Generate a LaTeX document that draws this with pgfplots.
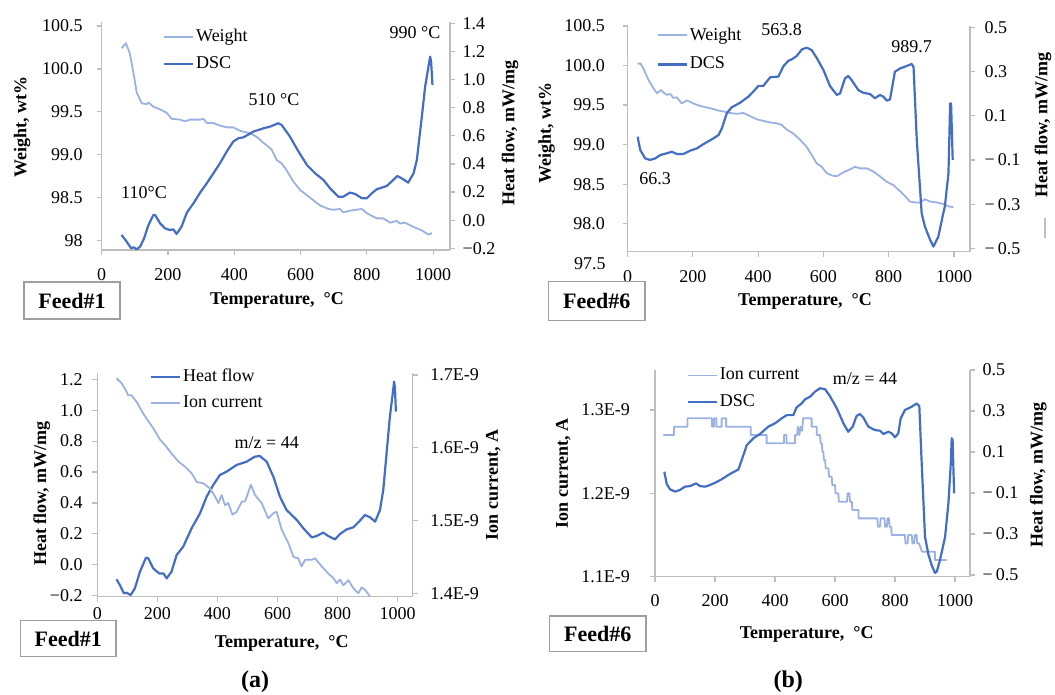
\documentclass[border=0pt]{standalone}
\usepackage{pgfplots}
\pgfplotsset{compat=1.18}
\usepackage{fontspec}
\setmainfont{Liberation Serif}
\definecolor{lightb}{RGB}{155,177,228}
\definecolor{darkb}{RGB}{68,110,196}
\definecolor{axgray}{RGB}{190,190,190}
\newcommand{\tf}{\fontsize{9}{10}\selectfont}
\newcommand{\lb}[1]{\makebox[14pt][l]{#1}}
\newcommand{\lc}[1]{\makebox[12.5pt][l]{#1}}
\newcommand{\rb}[1]{\makebox[21pt][r]{#1}}
\pgfplotsset{
  base/.style={scale only axis, anchor=south west, axis line style={axgray, line width=0.6pt},
    tick style={axgray, line width=0.6pt}, major tick length=2.5pt, tick align=outside,
    /pgf/number format/assume math mode=true,
    ticklabel style={font=\tf, text=black}, clip=false, xmin=0,
    xtick={0,200,400,600,800,1000}, xticklabels={0,200,400,600,800,1000},
    every axis plot/.append style={line join=round}},
  L/.style={axis x line*=bottom, axis y line*=left, yticklabel style={anchor=east}},
  R/.style={axis y line*=right, axis x line=none, yticklabel style={anchor=west}},
  lw/.style={lightb, line width=0.9pt},
  dk/.style={darkb, line width=1.1pt},
  leg/.style={legend style={draw=none, fill=none, inner sep=0pt, outer sep=0pt, font=\tf,
    row sep=4pt, anchor=north west, legend cell align=left, nodes={inner sep=1pt}},
    legend image code/.code={\draw[##1] (0pt,0pt) -- (14.5pt,0pt);}},
}
\begin{document}
\begin{tikzpicture}
\path[use as bounding box] (0,0) rectangle (527.5pt,347.5pt);
% ---------------- Panel 1 (Feed#1, top) ----------------
\begin{axis}[base, L, at={(50.85pt,222.5pt)}, width=174.15pt, height=114pt, xmax=1051,
  ymin=97.892, ymax=100.547,
  ytick={98,98.5,99,99.5,100,100.5}, yticklabels={\rb{98},\rb{98.5},\rb{99.0},\rb{99.5},\rb{100.0},\rb{100.5}},
  xticklabel shift=3pt, yticklabel shift=3.5pt]
\addplot[lw] coordinates {(60,100.24) (73,100.30) (85,100.18) (96,99.95) (106,99.72) (121,99.60) (136,99.59) (141,99.61) (156,99.56) (176,99.53) (196,99.49) (211,99.42) (236,99.41) (251,99.39) (267,99.41) (297,99.41) (307,99.42) (317,99.37) (337,99.37) (357,99.34) (377,99.32) (397,99.32) (417,99.28) (448,99.25) (468,99.21) (488,99.14) (498,99.11) (513,99.06) (528,98.94) (543,98.90) (558,98.82) (578,98.69) (599,98.59) (619,98.53) (639,98.47) (659,98.41) (684,98.37) (699,98.36) (719,98.37) (729,98.33) (749,98.35) (785,98.37) (800,98.32) (830,98.26) (850,98.26) (870,98.21) (890,98.23) (900,98.20) (915,98.21) (941,98.16) (966,98.12) (986,98.07) (996,98.09)};
\end{axis}
\begin{axis}[base, R, at={(50.85pt,222.5pt)}, width=174.15pt, height=114pt, xmax=1051,
  ymin=-0.212, ymax=1.409,
  ytick={-0.2,0,0.2,0.4,0.6,0.8,1.0,1.2,1.4}, yticklabels={\lc{−0.2},\lc{0.0},\lc{0.2},\lc{0.4},\lc{0.6},\lc{0.8},\lc{1.0},\lc{1.2},\lc{1.4}},
  yticklabel shift=0.3pt, leg, legend style={at={(0.176,0.977)}}]
\addlegendimage{lw}\addlegendentry{Weight}
\addplot[dk] coordinates {(60,-0.105) (75,-0.152) (89,-0.20) (96,-0.193) (106,-0.207) (116,-0.188) (128,-0.129) (141,-0.034) (156,0.037) (161,0.037) (176,-0.022) (191,-0.058) (206,-0.07) (216,-0.065) (226,-0.098) (241,-0.046) (257,0.054) (277,0.12) (297,0.196) (317,0.262) (337,0.333) (357,0.405) (377,0.487) (397,0.559) (412,0.582) (428,0.589) (458,0.63) (488,0.653) (508,0.665) (533,0.689) (543,0.677) (568,0.594) (594,0.487) (619,0.393) (644,0.333) (669,0.286) (689,0.227) (714,0.167) (729,0.167) (749,0.196) (765,0.186) (785,0.156) (800,0.156) (815,0.191) (830,0.220) (860,0.243) (880,0.286) (892,0.314) (905,0.298) (925,0.267) (941,0.333) (951,0.428) (966,0.736) (976,0.95) (986,1.092) (991,1.163) (994,1.127) (998,0.962)};
\addlegendentry{DSC}
\end{axis}
% ---------------- Panel 2 (Feed#6, top) ----------------
\begin{axis}[base, L, at={(313.75pt,221.65pt)}, width=171.25pt, height=112.85pt, xmax=1049,
  ymin=97.647, ymax=100.5,
  ytick={98,98.5,99,99.5,100,100.5}, yticklabels={\rb{98.0},\rb{98.5},\rb{99.0},\rb{99.5},\rb{100.0},\rb{100.5}},
  xticklabel shift=3.5pt, yticklabel shift=5.3pt]
\addplot[lw] coordinates {(31,100.02) (39,100.03) (49,99.96) (64,99.82) (80,99.71) (90,99.65) (102,99.69) (110,99.66) (120,99.63) (131,99.64) (141,99.59) (151,99.60) (166,99.52) (182,99.56) (202,99.52) (222,99.49) (243,99.47) (263,99.45) (279,99.43) (294,99.42) (314,99.40) (335,99.39) (355,99.40) (376,99.36) (396,99.32) (416,99.30) (437,99.28) (457,99.27) (472,99.25) (488,99.19) (508,99.14) (529,99.06) (549,98.97) (564,98.87) (580,98.76) (595,98.72) (610,98.64) (626,98.61) (641,98.60) (661,98.65) (682,98.69) (697,98.72) (712,98.70) (733,98.70) (753,98.66) (773,98.60) (794,98.53) (814,98.49) (835,98.41) (850,98.35) (865,98.28) (881,98.27) (896,98.27) (911,98.31) (927,98.28) (947,98.27) (967,98.25) (983,98.22) (998,98.21)};
\end{axis}
\begin{axis}[base, R, at={(313.75pt,221.65pt)}, width=171.25pt, height=112.85pt, xmax=1049,
  ymin=-0.515, ymax=0.506,
  ytick={-0.5,-0.3,-0.1,0.1,0.3,0.5}, yticklabels={\lb{−\,0.5},\lb{−\,0.3},\lb{−\,0.1},\lb{0.1},\lb{0.3},\lb{0.5}},
  yticklabel shift=1.3pt, leg, legend style={at={(0.085,1.002)}, row sep=5pt}]
\addlegendimage{lw}\addlegendentry{Weight}
\addplot[dk] coordinates {(31,0.005) (39,-0.055) (54,-0.093) (69,-0.100) (85,-0.093) (100,-0.078) (120,-0.070) (136,-0.063) (151,-0.073) (171,-0.073) (192,-0.058) (212,-0.048) (233,-0.028) (258,-0.007) (279,0.013) (289,0.043) (304,0.111) (319,0.138) (345,0.159) (370,0.186) (385,0.209) (401,0.235) (416,0.235) (437,0.274) (462,0.277) (478,0.325) (493,0.349) (503,0.355) (518,0.370) (534,0.400) (549,0.408) (564,0.397) (580,0.360) (600,0.307) (620,0.235) (641,0.194) (651,0.201) (666,0.269) (676,0.280) (686,0.262) (707,0.216) (722,0.204) (743,0.198) (758,0.179) (773,0.194) (784,0.186) (794,0.168) (804,0.174) (819,0.299) (835,0.314) (855,0.325) (870,0.334) (876,0.322) (886,-0.010) (901,-0.342) (911,-0.402) (927,-0.462) (937,-0.492) (952,-0.447) (967,-0.342) (972,-0.31) (983,-0.16) (986,0.02) (988,0.156) (991,0.156) (996,-0.1)};
\addlegendentry{DCS}
\end{axis}
% ---------------- Panel 3 (Feed#1, bottom) ----------------
\begin{axis}[base, L, at={(48.65pt,49.15pt)}, width=157.7pt, height=111.6pt, xmax=1050,
  ymin=-0.2065, ymax=1.2375,
  ytick={-0.2,0,0.2,0.4,0.6,0.8,1.0,1.2}, yticklabels={−0.2,0.0,0.2,0.4,0.6,0.8,1.0,1.2},
  xticklabel shift=-0.5pt, yticklabel shift=1.3pt]
\addplot[dk] coordinates {(64,-0.094) (75,-0.131) (89,-0.185) (98,-0.181) (111,-0.196) (125,-0.153) (142,-0.045) (162,0.046) (170,0.041) (186,-0.023) (206,-0.056) (220,-0.056) (231,-0.088) (247,-0.045) (264,0.063) (286,0.117) (314,0.236) (342,0.333) (364,0.441) (386,0.516) (408,0.581) (430,0.602) (464,0.646) (497,0.667) (524,0.699) (541,0.704) (564,0.667) (586,0.570) (608,0.441) (630,0.354) (664,0.290) (686,0.236) (714,0.177) (730,0.186) (752,0.208) (769,0.186) (791,0.164) (808,0.199) (830,0.229) (852,0.242) (874,0.285) (891,0.322) (908,0.307) (925,0.279) (941,0.354) (952,0.484) (963,0.721) (974,0.958) (983,1.099) (988,1.185) (991,1.142) (994,0.991)};
\end{axis}
\begin{axis}[base, R, at={(48.65pt,49.15pt)}, width=157.7pt, height=111.6pt, xmax=1050,
  ymin=1.3953, ymax=1.702,
  ytick={1.4,1.5,1.6,1.7}, yticklabels={1.4E-9,1.5E-9,1.6E-9,1.7E-9},
  yticklabel shift=2.8pt, leg, legend style={at={(0.167,1.029)}, row sep=3.5pt}]
\addlegendimage{dk}\addlegendentry{Heat flow}
\addplot[lw] coordinates {(64,1.6954) (81,1.6885) (95,1.679) (103,1.672) (114,1.672) (131,1.663) (153,1.647) (164,1.640) (186,1.627) (209,1.611) (225,1.604) (247,1.592) (270,1.581) (292,1.574) (314,1.565) (331,1.553) (353,1.551) (375,1.544) (392,1.533) (403,1.524) (414,1.535) (425,1.521) (436,1.524) (450,1.508) (464,1.512) (481,1.526) (492,1.526) (511,1.549) (525,1.535) (547,1.524) (569,1.503) (586,1.510) (597,1.512) (614,1.487) (636,1.469) (653,1.450) (669,1.448) (680,1.437) (692,1.446) (714,1.446) (725,1.448) (747,1.437) (769,1.427) (786,1.421) (797,1.414) (808,1.419) (819,1.411) (836,1.418) (852,1.407) (869,1.400) (880,1.408) (891,1.405) (908,1.3955)};
\addlegendentry{Ion current}
\end{axis}
% ---------------- Panel 4 (Feed#6, bottom) ----------------
\begin{axis}[base, L, at={(327.5pt,59.15pt)}, width=157.5pt, height=103.35pt, xmax=1050,
  ymin=1.1, ymax=1.348,
  ytick={1.1,1.2,1.3}, yticklabels={1.1E-9,1.2E-9,1.3E-9},
  xticklabel shift=2.8pt, yticklabel shift=6.5pt]
\addplot[lw] coordinates {(28,1.27) (63,1.27) (63,1.28) (108,1.28) (108,1.29) (190,1.29) (190,1.28) (197,1.28) (197,1.29) (205,1.29) (205,1.28) (222,1.28) (222,1.29) (237,1.29) (237,1.28) (319,1.28) (319,1.27) (372,1.27) (372,1.26) (430,1.26) (430,1.27) (438,1.27) (438,1.26) (467,1.26) (467,1.27) (474,1.27) (476,1.28) (481,1.27) (485,1.28) (490,1.275) (494,1.29) (503,1.29) (522,1.29) (522,1.28) (539,1.28) (539,1.27) (550,1.27) (552,1.26) (556,1.26) (558,1.25) (561,1.25) (563,1.24) (567,1.24) (569,1.23) (578,1.23) (580,1.22) (589,1.22) (591,1.21) (600,1.21) (602,1.20) (611,1.20) (613,1.19) (640,1.19) (642,1.20) (648,1.20) (650,1.19) (656,1.19) (658,1.18) (678,1.18) (678,1.17) (741,1.17) (743,1.16) (750,1.16) (752,1.17) (765,1.17) (767,1.16) (773,1.16) (775,1.17) (780,1.17) (782,1.16) (787,1.16) (789,1.15) (833,1.15) (835,1.14) (842,1.14) (844,1.15) (856,1.15) (858,1.14) (864,1.14) (866,1.15) (872,1.15) (874,1.14) (880,1.14) (890,1.13) (933,1.13) (933,1.12) (972,1.12)};
\end{axis}
\begin{axis}[base, R, at={(327.5pt,59.15pt)}, width=157.5pt, height=103.35pt, xmax=1050,
  ymin=-0.508, ymax=0.5,
  ytick={-0.5,-0.3,-0.1,0.1,0.3,0.5}, yticklabels={\lb{−\,0.5},\lb{−\,0.3},\lb{−\,0.1},\lb{0.1},\lb{0.3},\lb{0.5}},
  yticklabel shift=0.3pt, leg, legend style={at={(0.1006,1.019)}}]
\addlegendimage{lw}\addlegendentry{Ion current}
\addplot[dk] coordinates {(31,0.004) (39,-0.056) (50,-0.082) (67,-0.093) (83,-0.085) (100,-0.069) (117,-0.066) (137,-0.053) (150,-0.066) (167,-0.069) (183,-0.061) (200,-0.050) (222,-0.033) (250,-0.007) (278,0.015) (289,0.061) (306,0.134) (328,0.167) (350,0.188) (378,0.224) (400,0.240) (422,0.264) (439,0.280) (461,0.280) (472,0.318) (489,0.337) (500,0.357) (517,0.370) (533,0.394) (550,0.411) (567,0.406) (583,0.373) (606,0.313) (628,0.240) (644,0.199) (659,0.224) (672,0.276) (683,0.285) (694,0.269) (711,0.224) (733,0.207) (750,0.204) (761,0.188) (778,0.199) (789,0.191) (800,0.172) (811,0.191) (819,0.264) (833,0.305) (856,0.321) (872,0.337) (881,0.324) (889,0.045) (900,-0.313) (911,-0.398) (922,-0.451) (933,-0.489) (939,-0.484) (950,-0.427) (967,-0.313) (978,-0.150) (986,0.045) (989,0.167) (992,0.159) (997,-0.102)};
\addlegendentry{DSC}
\end{axis}
% ---------------- Texts (pixel coordinates) ----------------
\begin{scope}[x=0.5pt, y=-0.5pt, shift={(0pt,347.5pt)}, every node/.style={font=\tf, inner sep=0pt}]
\tikzset{bt/.style={font=\bfseries\tf}, fb/.style={draw=gray!75, line width=0.6pt, font=\bfseries\fontsize{11}{12}\selectfont}}
% panel 1
\node[bt, rotate=90] at (22,127) {Weight, wt\%};
\node[bt, rotate=90] at (510,133) {Heat flow, mW/mg};
\node[bt] at (277,300) {Temperature, \ °C};
\node[fb, minimum width=48pt, minimum height=18.5pt] at (72,300.5) {Feed\#1};
\node at (415,33) {990 °C};
\node at (274,100) {510 °C};
\node at (144,193) {110°C};
% panel 2
\node[bt, rotate=90] at (546.7,133) {Weight, wt\%};
\node[bt, rotate=90] at (1043,125) {Heat flow, mW/mg};
\draw[axgray, line width=0.6pt] (1045,218) -- (1045,238);
\node[bt] at (805,301.7) {Temperature, \ °C};
\node[fb, minimum width=48.3pt, minimum height=19.5pt] at (596.7,301.2) {Feed\#6};
\node at (781.7,30) {563.8};
\node at (911.7,46.7) {989.7};
\node at (655,178.3) {66.3};
\node[anchor=east] at (606,263.3) {97.5};
% panel 3
\node[bt, rotate=90] at (41.7,493.3) {Heat flow, mW/mg};
\node[bt, rotate=90] at (493.3,485) {Ion current, A};
\node[bt] at (281.7,643.3) {Temperature, \ °C};
\node[fb, minimum width=47.6pt, minimum height=18pt] at (68.3,638.7) {Feed\#1};
\node[font=\bfseries\fontsize{12}{13}\selectfont] at (255,681.7) {(a)};
\node at (266.7,442.7) {m/z = 44};
% panel 4
\node[bt, rotate=90] at (563.3,473.3) {Ion current, A};
\node[bt, rotate=90] at (1038.3,475) {Heat flow, mW/mg};
\node[bt] at (806.7,634) {Temperature, \ °C};
\node[fb, minimum width=48.3pt, minimum height=17.8pt] at (597.7,633.8) {Feed\#6};
\node[font=\bfseries\fontsize{12}{13}\selectfont] at (788.3,681.7) {(b)};
\node at (865,378.3) {m/z = 44};
\end{scope}
\end{tikzpicture}
\end{document}
